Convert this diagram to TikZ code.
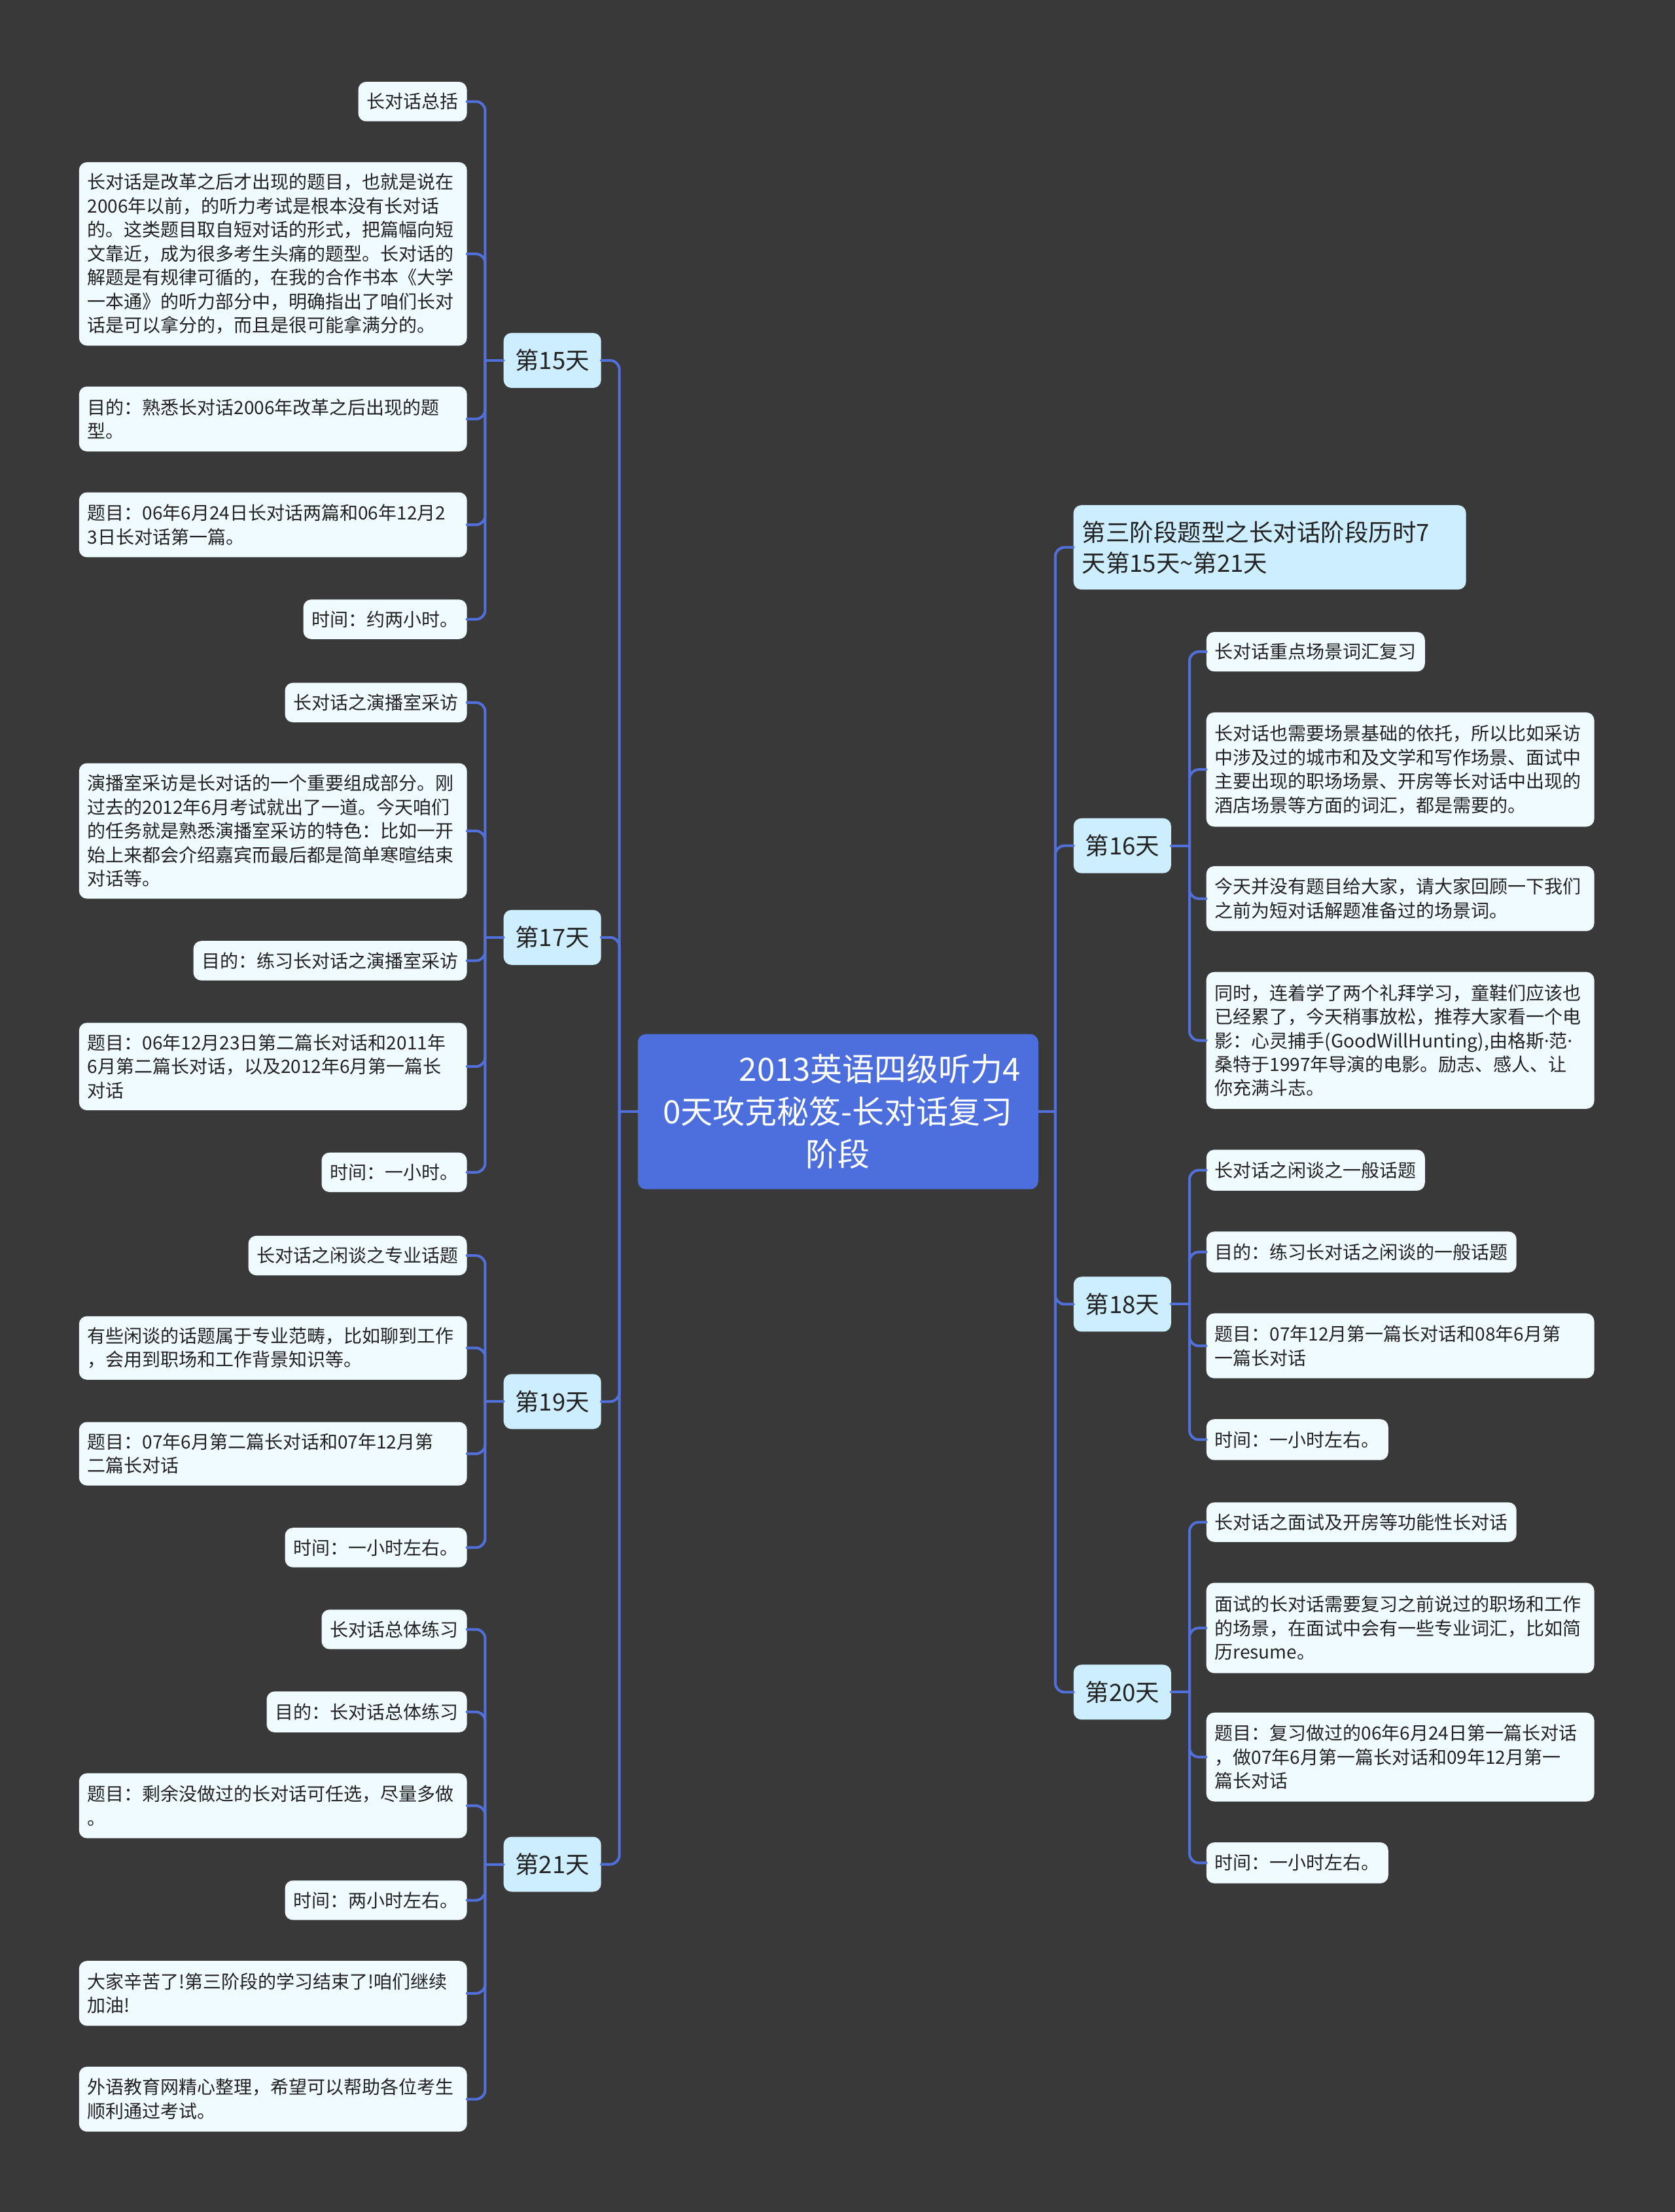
\documentclass[tikz,border=0pt]{standalone}
\usepackage{fontspec}
\setmainfont{Noto Sans CJK SC}
\newfontfamily\latinf{Noto Sans}
\definecolor{bgc}{RGB}{58,57,58}
\definecolor{rootc}{RGB}{77,111,222}
\definecolor{dayc}{RGB}{204,238,255}
\definecolor{leafc}{RGB}{240,251,255}
\definecolor{linec}{RGB}{82,112,218}
\definecolor{txtc}{RGB}{34,34,34}
\newcommand\leafL[4]{\node[leaf,anchor=east,minimum height={(#3-#2)*2.1567pt}] (#1) at (331,{(#2+#3)/2}) {#4};}
\newcommand\leafR[4]{\node[leaf,anchor=west,minimum height={(#3-#2)*2.1567pt}] (#1) at (855,{(#2+#3)/2}) {#4};}
\newcommand\multL[4]{\node[leaf,text width=567pt,minimum height={(#3-#2)*2.1567pt}] (#1) at (193.5,{(#2+#3)/2}) {#4};}
\newcommand\multR[4]{\node[leaf,text width=567pt,minimum height={(#3-#2)*2.1567pt}] (#1) at (992.5,{(#2+#3)/2}) {#4};}
\newcommand\mdot{{\latinf ·}}
\begin{document}
\begin{tikzpicture}[x=2.1567pt,y=-2.1567pt,
  leaf/.style={fill=leafc, rounded corners=12pt, inner xsep=13pt, inner ysep=4pt, text=txtc, align=left, font=\fontsize{28}{36.5}\selectfont},
  daybox/.style={fill=dayc, rounded corners=12pt, minimum width=149pt, minimum height=84pt, inner sep=4pt, text=txtc, align=center, font=\fontsize{36.5}{47}\selectfont},
  rootbox/.style={fill=rootc, rounded corners=12pt, minimum width=612pt, minimum height=237pt, inner sep=6pt, text=white, align=center, font=\fontsize{49}{65}\selectfont},
  conn/.style={draw=linec, line width=4pt, rounded corners=14pt, line cap=round}]
\fill[bgc] (0,0) rectangle (1187,1568);
\useasboundingbox (0,0) rectangle (1187,1568);

% root
\node[rootbox] (root) at (594,788) {\hspace*{128pt}2013英语四级听力4\\0天攻克秘笈-长对话复习\\阶段};

% left day nodes
\node[daybox] (d15) at (391.5,255.5) {第15天};
\node[daybox] (d17) at (391.5,664.5) {第17天};
\node[daybox] (d19) at (391.5,993.5) {第19天};
\node[daybox] (d21) at (391.5,1321.5) {第21天};

% right day nodes
\node[daybox, align=left, text width=574pt, minimum width=600pt, minimum height=129pt, inner xsep=13pt] (r0) at (900,388) {第三阶段题型之长对话阶段历时7\\天第15天\textasciitilde 第21天};
\node[daybox] (d16) at (795.5,599.5) {第16天};
\node[daybox] (d18) at (795.5,924.5) {第18天};
\node[daybox] (d20) at (795.5,1199.5) {第20天};

% day 15 leaves
\leafL{l15a}{58}{86}{长对话总括}
\multL{l15b}{115}{245}{长对话是改革之后才出现的题目，也就是说在\\2006年以前，的听力考试是根本没有长对话\\的。这类题目取自短对话的形式，把篇幅向短\\文靠近，成为很多考生头痛的题型。长对话的\\解题是有规律可循的，在我的合作书本《大学\\一本通》的听力部分中，明确指出了咱们长对\\话是可以拿分的，而且是很可能拿满分的。}
\multL{l15c}{274}{320}{目的：熟悉长对话2006年改革之后出现的题\\型。}
\multL{l15d}{349}{395}{题目：06年6月24日长对话两篇和06年12月2\\3日长对话第一篇。}
\leafL{l15e}{425}{453}{时间：约两小时。}

% day 17 leaves
\leafL{l17a}{484}{512}{长对话之演播室采访}
\multL{l17b}{541}{637}{演播室采访是长对话的一个重要组成部分。刚\\过去的2012年6月考试就出了一道。今天咱们\\的任务就是熟悉演播室采访的特色：比如一开\\始上来都会介绍嘉宾而最后都是简单寒暄结束\\对话等。}
\leafL{l17c}{667}{695}{目的：练习长对话之演播室采访}
\multL{l17d}{725}{787}{题目：06年12月23日第二篇长对话和2011年\\6月第二篇长对话，以及2012年6月第一篇长\\对话}
\leafL{l17e}{817}{845}{时间：一小时。}

% day 19 leaves
\leafL{l19a}{876}{904}{长对话之闲谈之专业话题}
\multL{l19b}{933}{978}{有些闲谈的话题属于专业范畴，比如聊到工作\\，会用到职场和工作背景知识等。}
\multL{l19c}{1008}{1053}{题目：07年6月第二篇长对话和07年12月第\\二篇长对话}
\leafL{l19d}{1083}{1111}{时间：一小时左右。}

% day 21 leaves
\leafL{l21a}{1141}{1169}{长对话总体练习}
\leafL{l21b}{1199}{1228}{目的：长对话总体练习}
\multL{l21c}{1257}{1303}{题目：剩余没做过的长对话可任选，尽量多做\\。}
\leafL{l21d}{1333}{1361}{时间：两小时左右。}
\multL{l21e}{1390}{1436}{大家辛苦了!第三阶段的学习结束了!咱们继续\\加油!}
\multL{l21f}{1465}{1511}{外语教育网精心整理，希望可以帮助各位考生\\顺利通过考试。}

% day 16 leaves
\leafR{r16a}{448}{476}{长对话重点场景词汇复习}
\multR{r16b}{505}{586}{长对话也需要场景基础的依托，所以比如采访\\中涉及过的城市和及文学和写作场景、面试中\\主要出现的职场场景、开房等长对话中出现的\\酒店场景等方面的词汇，都是需要的。}
\multR{r16c}{614}{660}{今天并没有题目给大家，请大家回顾一下我们\\之前为短对话解题准备过的场景词。}
\multR{r16d}{689}{786}{同时，连着学了两个礼拜学习，童鞋们应该也\\已经累了，今天稍事放松，推荐大家看一个电\\影：心灵捕手(GoodWillHunting),由格斯\mdot 范\mdot\\桑特于1997年导演的电影。励志、感人、让\\你充满斗志。}

% day 18 leaves
\leafR{r18a}{815}{844}{长对话之闲谈之一般话题}
\leafR{r18b}{873}{902}{目的：练习长对话之闲谈的一般话题}
\multR{r18c}{931}{977}{题目：07年12月第一篇长对话和08年6月第\\一篇长对话}
\leafR{r18d}{1006}{1035}{时间：一小时左右。}

% day 20 leaves
\leafR{r20a}{1065}{1093}{长对话之面试及开房等功能性长对话}
\multR{r20b}{1122}{1186}{面试的长对话需要复习之前说过的职场和工作\\的场景，在面试中会有一些专业词汇，比如简\\历resume。}
\multR{r20c}{1214}{1277}{题目：复习做过的06年6月24日第一篇长对话\\，做07年6月第一篇长对话和09年12月第一\\篇长对话}
\leafR{r20d}{1306}{1335}{时间：一小时左右。}

% connectors: root to days
\draw[conn] (root.west) -- ++(-13,0) coordinate (jl);
\foreach \d in {d15,d17,d19,d21} \draw[conn] (jl) |- (\d.east);
\draw[conn] (root.east) -- ++(12,0) coordinate (jr);
\foreach \d in {r0,d16,d18,d20} \draw[conn] (jr) |- (\d.west);

% left day to leaves
\draw[conn] (d15.west) -- ++(-13,0) coordinate (j15);
\foreach \l in {l15a,l15b,l15c,l15d,l15e} \draw[conn] (j15) |- (\l.east);
\draw[conn] (d17.west) -- ++(-13,0) coordinate (j17);
\foreach \l in {l17a,l17b,l17c,l17d,l17e} \draw[conn] (j17) |- (\l.east);
\draw[conn] (d19.west) -- ++(-13,0) coordinate (j19);
\foreach \l in {l19a,l19b,l19c,l19d} \draw[conn] (j19) |- (\l.east);
\draw[conn] (d21.west) -- ++(-13,0) coordinate (j21);
\foreach \l in {l21a,l21b,l21c,l21d,l21e,l21f} \draw[conn] (j21) |- (\l.east);

% right day to leaves
\draw[conn] (d16.east) -- ++(13,0) coordinate (j16);
\foreach \l in {r16a,r16b,r16c,r16d} \draw[conn] (j16) |- (\l.west);
\draw[conn] (d18.east) -- ++(13,0) coordinate (j18);
\foreach \l in {r18a,r18b,r18c,r18d} \draw[conn] (j18) |- (\l.west);
\draw[conn] (d20.east) -- ++(13,0) coordinate (j20);
\foreach \l in {r20a,r20b,r20c,r20d} \draw[conn] (j20) |- (\l.west);
\end{tikzpicture}
\end{document}
